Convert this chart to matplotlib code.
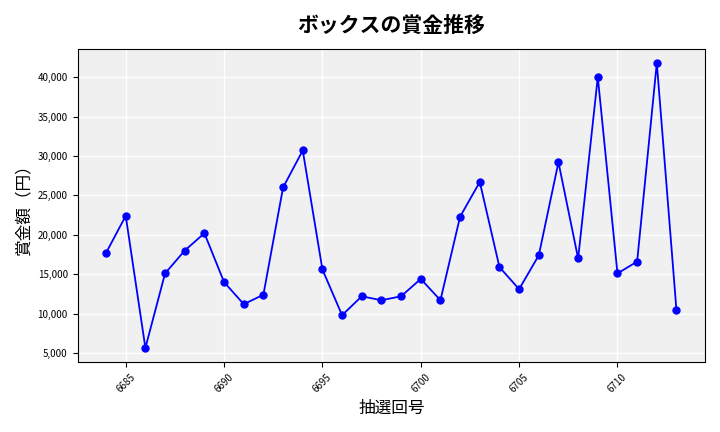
import matplotlib

matplotlib.use("Agg")

import matplotlib.pyplot as plt
from matplotlib.ticker import FuncFormatter

plt.rcParams["font.family"] = "Noto Sans CJK JP"

draw_numbers = list(range(6684, 6714))
prizes = [
    17700, 22400, 5650, 15100, 18000, 20200, 14000, 11200, 12400, 26000,
    30700, 15600, 9800, 12200, 11700, 12200, 14400, 11700, 22300, 26700,
    15900, 13100, 17400, 29200, 17000, 40000, 15100, 16600, 41800, 10400,
]

fig, ax = plt.subplots(figsize=(7.2, 4.32), dpi=100)
ax.set_facecolor("#f0f0f0")
ax.grid(True, color="white", linewidth=1)
ax.set_axisbelow(True)
ax.plot(draw_numbers, prizes, color="blue", marker="o", markersize=5, linewidth=1.3)
ax.set_title("ボックスの賞金推移", fontsize=15, fontweight="bold", pad=12)
ax.set_xlabel("抽選回号", fontsize=12)
ax.set_ylabel("賞金額（円）", fontsize=12)
ax.yaxis.set_major_formatter(FuncFormatter(lambda v, p: f"{int(v):,}"))
ax.tick_params(axis="x", labelrotation=45, labelsize=7)
ax.tick_params(axis="y", labelsize=7)
fig.tight_layout()
fig.savefig("out.png", dpi=100)
plt.close(fig)
